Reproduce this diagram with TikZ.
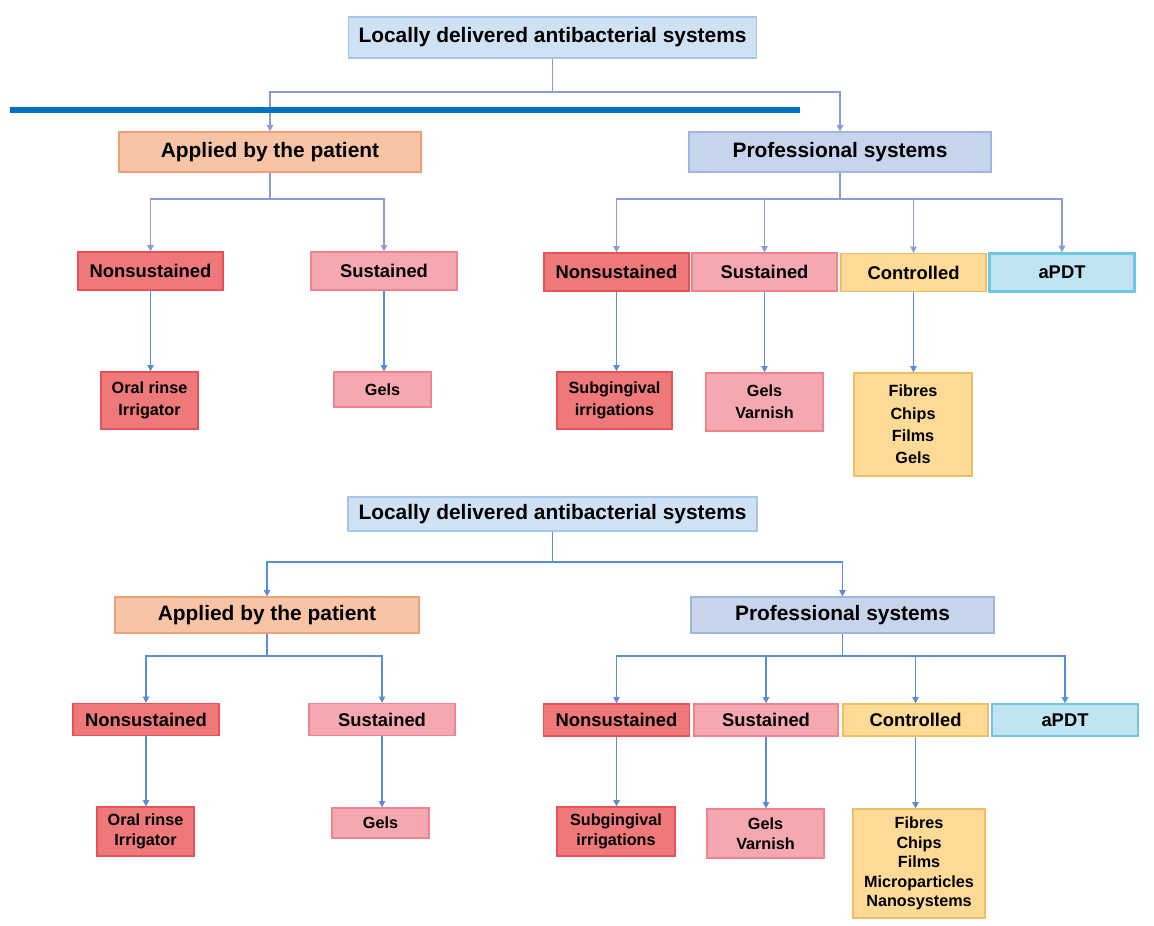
\documentclass[tikz,border=0pt]{standalone}
\usepackage{fontspec}
\setmainfont{Liberation Sans}
\usetikzlibrary{arrows.meta}
\definecolor{rootfill}{RGB}{207,226,243}
\definecolor{rootdraw}{RGB}{165,198,232}
\definecolor{appfill}{RGB}{248,196,166}
\definecolor{appdraw}{RGB}{238,160,122}
\definecolor{profill}{RGB}{198,212,236}
\definecolor{prodraw}{RGB}{160,182,222}
\definecolor{nsfill}{RGB}{238,120,122}
\definecolor{nsdraw}{RGB}{230,82,88}
\definecolor{sfill}{RGB}{245,168,175}
\definecolor{sdraw}{RGB}{240,132,142}
\definecolor{cfill}{RGB}{253,218,150}
\definecolor{cdraw}{RGB}{238,190,100}
\definecolor{dfill}{RGB}{192,228,242}
\definecolor{ddraw}{RGB}{110,200,228}
\definecolor{connA}{RGB}{140,155,215}
\definecolor{connB}{RGB}{90,140,215}
\definecolor{bigline}{RGB}{0,112,192}
\begin{document}
\begin{tikzpicture}[x=0.5pt,y=-0.5pt,
  box/.style={draw, line width=0.6pt, inner sep=0pt, align=center, text=black},
  big/.style={box, font=\fontsize{10.45pt}{12pt}\selectfont\bfseries},
  mid/.style={box, font=\fontsize{9.2pt}{11pt}\selectfont\bfseries},
  leafA/.style={box, font=\fontsize{8.1pt}{11.2pt}\selectfont\bfseries},
  leafB/.style={box, font=\fontsize{8.1pt}{9.8pt}\selectfont\bfseries},
  rootc/.style={fill=rootfill, draw=rootdraw},
  appc/.style={fill=appfill, draw=appdraw},
  proc/.style={fill=profill, draw=prodraw},
  nsc/.style={fill=nsfill, draw=nsdraw},
  sc/.style={fill=sfill, draw=sdraw},
  cc/.style={fill=cfill, draw=cdraw},
  dc/.style={fill=dfill, draw=ddraw},
  plainA/.style={draw=connA, line width=0.7pt},
  connA/.style={plainA, -{Triangle[length=3.2pt,width=3.2pt]}},
  plainB/.style={draw=connB, line width=0.7pt},
  connB/.style={plainB, -{Triangle[length=3.2pt,width=3.2pt]}}
]
\useasboundingbox (0,0) rectangle (1154,925);
\fill[white] (0,0) rectangle (1154,925);

% ---------------- top tree ----------------
\node[big, rootc, minimum width=204pt, minimum height=20.5pt] (r1) at (552.5,37.5) {Locally delivered antibacterial systems};
\node[big, appc, minimum width=151pt, minimum height=20pt] (a1) at (270,152) {Applied by the patient};
\node[big, proc, minimum width=151pt, minimum height=20pt] (p1) at (840,152) {Professional systems};

\node[mid, nsc, minimum width=72.5pt, minimum height=19pt] (n1) at (150.5,271) {Nonsustained};
\node[mid, sc, minimum width=73pt, minimum height=19pt] (s1) at (384,271) {Sustained};
\node[mid, nsc, minimum width=72.5pt, minimum height=19pt] (n2) at (616.5,272) {Nonsustained};
\node[mid, sc, minimum width=72.5pt, minimum height=19pt] (s2) at (764.5,272) {Sustained};
\node[mid, cc, minimum width=72.5pt, minimum height=19pt] (c2) at (913.5,272.5) {Controlled};
\node[mid, dc, line width=1.4pt, minimum width=72.5pt, minimum height=19pt] (d2) at (1062,272.5) {aPDT};

\node[leafA, nsc, minimum width=48.5pt, minimum height=28.5pt] (l1) at (149.5,400.5) {Oral rinse\\Irrigator};
\node[leafA, sc, minimum width=48.5pt, minimum height=17.5pt] (l2) at (382.5,389.5) {Gels};
\node[leafA, nsc, minimum width=57.5pt, minimum height=28.5pt] (l3) at (614.5,400.5) {Subgingival\\irrigations};
\node[leafA, sc, minimum width=58.5pt, minimum height=29pt] (l4) at (764.5,402) {Gels\\Varnish};
\node[leafA, cc, minimum width=59pt, minimum height=51.5pt] (l5) at (913,424.5) {Fibres\\Chips\\Films\\Gels};

\draw[plainA] (r1.south) -- (r1.south |- 0,92) coordinate (j1);
\draw[connA] (j1) -| (a1.north);
\draw[connA] (j1) -| (p1.north);
\draw[plainA] (a1.south) -- (a1.south |- 0,199) coordinate (j2);
\draw[connA] (j2) -| (n1.north);
\draw[connA] (j2) -| (s1.north);
\draw[plainA] (p1.south) -- (p1.south |- 0,199) coordinate (j3);
\draw[connA] (j3) -| (n2.north);
\draw[connA] (j3) -| (s2.north);
\draw[connA] (j3) -| (c2.north);
\draw[connA] (j3) -| (d2.north);
\draw[connB] (n1.south) -- (n1.south |- l1.north);
\draw[connB] (s1.south) -- (s1.south |- l2.north);
\draw[connB] (n2.south) -- (n2.south |- l3.north);
\draw[connB] (s2.south) -- (s2.south |- l4.north);
\draw[connB] (c2.south) -- (c2.south |- l5.north);

\draw[bigline, line width=3pt] (10,110) -- (800,110);

% ---------------- bottom tree ----------------
\node[big, rootc, minimum width=204.5pt, minimum height=17pt] (r2) at (552.5,514) {Locally delivered antibacterial systems};
\node[big, appc, minimum width=152pt, minimum height=18pt] (a2) at (267,615) {Applied by the patient};
\node[big, proc, minimum width=151.5pt, minimum height=18pt] (p2) at (842.5,615) {Professional systems};

\node[mid, nsc, minimum width=73pt, minimum height=16pt] (n3) at (146,719.5) {Nonsustained};
\node[mid, sc, minimum width=73pt, minimum height=16pt] (s3) at (382,719.5) {Sustained};
\node[mid, nsc, minimum width=73pt, minimum height=16pt] (n4) at (616.5,720) {Nonsustained};
\node[mid, sc, minimum width=72pt, minimum height=16pt] (s4) at (766,720) {Sustained};
\node[mid, cc, minimum width=72.5pt, minimum height=16pt] (c4) at (915.5,720) {Controlled};
\node[mid, dc, minimum width=73pt, minimum height=16pt] (d4) at (1065,720) {aPDT};

\node[leafB, nsc, minimum width=48.5pt, minimum height=24.5pt] (l6) at (145.5,831.5) {Oral rinse\\Irrigator};
\node[leafB, sc, minimum width=48.5pt, minimum height=15pt] (l7) at (380.5,823) {Gels};
\node[leafB, nsc, minimum width=59pt, minimum height=24.5pt] (l8) at (616,831.5) {Subgingival\\irrigations};
\node[leafB, sc, minimum width=58.5pt, minimum height=24.5pt] (l9) at (765.5,833.5) {Gels\\Varnish};
\node[leafB, cc, minimum width=66pt, minimum height=54.5pt] (l10) at (919,863.5) {Fibres\\Chips\\Films\\Microparticles\\Nanosystems};

\draw[plainB] (r2.south) -- (r2.south |- 0,562) coordinate (k1);
\draw[connB] (k1) -| (a2.north);
\draw[connB] (k1) -| (p2.north);
\draw[plainB] (a2.south) -- (a2.south |- 0,656) coordinate (k2);
\draw[connB] (k2) -| (n3.north);
\draw[connB] (k2) -| (s3.north);
\draw[plainB] (p2.south) -- (p2.south |- 0,656) coordinate (k3);
\draw[connB] (k3) -| (n4.north);
\draw[connB] (k3) -| (s4.north);
\draw[connB] (k3) -| (c4.north);
\draw[connB] (k3) -| (d4.north);
\draw[connB] (n3.south) -- (n3.south |- l6.north);
\draw[connB] (s3.south) -- (s3.south |- l7.north);
\draw[connB] (n4.south) -- (n4.south |- l8.north);
\draw[connB] (s4.south) -- (s4.south |- l9.north);
\draw[connB] (c4.south) -- (c4.south |- l10.north);
\end{tikzpicture}
\end{document}
